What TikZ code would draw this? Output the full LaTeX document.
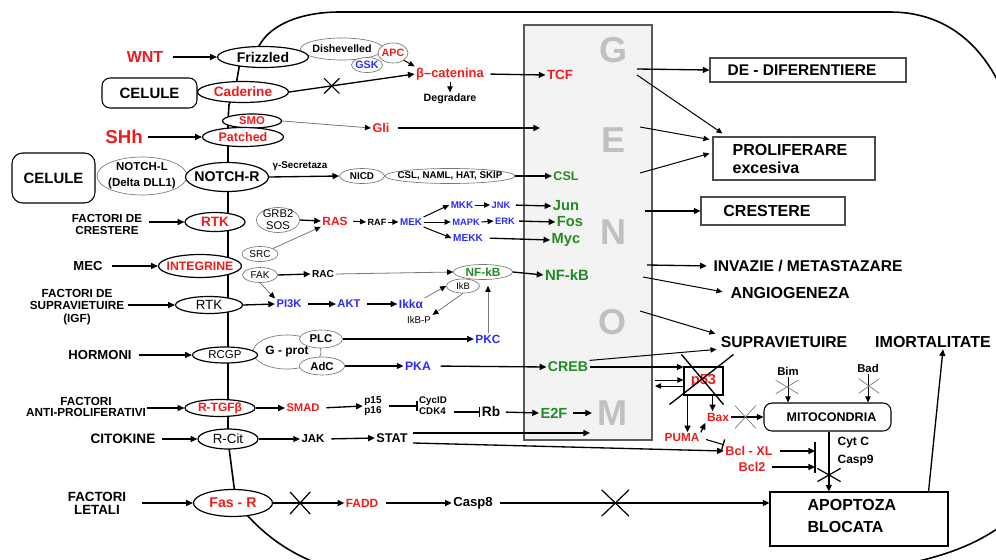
\documentclass[tikz,border=0pt]{standalone}
\usepackage{fontspec}
\setmainfont{Liberation Sans}
\usetikzlibrary{shapes.geometric,shapes.misc,arrows.meta,calc}
\definecolor{rd}{RGB}{240,28,28}
\definecolor{bl}{RGB}{45,45,250}
\definecolor{gn}{RGB}{34,139,34}
\definecolor{gy}{RGB}{120,120,120}
\definecolor{lt}{RGB}{192,192,192}
\definecolor{gbox}{RGB}{243,243,243}
\tikzset{
  sz/.style 2 args={minimum width=#1*0.75pt, minimum height=#2*0.75pt},
  ell/.style={ellipse, draw=black, fill=white, line width=0.9pt, inner sep=0pt},
  gell/.style={ellipse, draw=gy, fill=white, line width=0.5pt, inner sep=0pt},
  fs/.style 2 args={inner sep=1pt, font=\bfseries\fontsize{#1}{#2}\selectfont},
  fr/.style 2 args={inner sep=1pt, font=\mdseries\fontsize{#1}{#2}\selectfont},
  arr/.style={line width=1pt, -{Triangle[length=5pt,width=4.5pt]}},
  tarr/.style={line width=0.75pt, -{Triangle[length=4.5pt,width=4pt]}},
  garr/.style={draw=gy, line width=0.6pt, -{Triangle[length=4.5pt,width=4pt,color=black]}},
  inh/.style={line width=0.8pt, -{Bar[width=8pt,line width=1pt]}},
  xx/.style={cross out, draw, line width=0.9pt, inner sep=0pt},
  gxx/.style={cross out, draw=gy, line width=0.5pt, inner sep=0pt},
  box/.style={rectangle, draw, fill=white, line width=0.8pt, inner sep=0pt},
  mem/.style={line width=1.2pt},
  gl/.style={font=\bfseries\fontsize{27}{27}\selectfont, text=lt, inner sep=0pt},
}
\begin{document}
\begin{tikzpicture}[x=0.75pt,y=-0.75pt]
\path[use as bounding box] (0,0) rectangle (996,560);
\clip (0,0) rectangle (996,560);
\fill[white] (0,0) rectangle (996,560);
% cell membrane
\draw[mem] (259,46) .. controls (270,25) and (300,12) .. (340,12) -- (890,12)
  .. controls (950,12) and (990,50) .. (1010,110) -- (1040,480)
  .. controls (1020,520) and (980,550) .. (900,565) -- (900,600) -- (330,600) -- (330,568)
  .. controls (290,555) and (265,535) .. (246,514) -- (236,502) -- (228,440) -- (228,120)
  -- (229,105) -- (236,85) -- (240,62) -- cycle;
% genome
\node[rectangle, draw=black!65, fill=gbox, line width=1pt, sz={128}{415}, inner sep=0pt] (gen) at (588,232.5) {};
\node[gl] (lG) at (613,50) {G};
\node[gl] (lE) at (613,140) {E};
\node[gl] (lN) at (613,232) {N};
\node[gl] (lO) at (612,322) {O};
\node[gl] (lM) at (612,413) {M};

% ---- WNT / cadherin
\node[fs={12}{14}, text=rd] (wnt) at (145,57) {WNT};
\node[gell, sz={83}{22}, label={[fs={8}{9}]center:{Dishevelled}}] (dish) at (342,49) {};
\node[ell, sz={91}{21}, label={[fs={10.5}{12}]center:{Frizzled}}] (friz) at (263,57) {};
\node[gell, sz={31}{15}, label={[fs={8}{9},text=bl]center:{GSK}}] (gsk) at (367,65) {};
\node[gell, sz={30}{20}, label={[fs={8}{9},text=rd]center:{APC}}] (apc) at (393,53) {};
\node[fs={9.7}{11}, text=rd] (bcat) at (450,74) {β–catenina};
\node[fs={8}{9}] (degr) at (450,99) {Degradare};
\node[fs={10}{12}, text=rd] (tcf) at (560,75) {TCF};
\node[box, rounded corners=6pt, sz={95}{30}, label={[fs={11.2}{13}]center:{CELULE}}] (cel1) at (149.5,93) {};
\node[ell, sz={91}{21}, label={[fs={10.2}{12},text=rd]center:{Caderine}}] (cad) at (243,92) {};
% ---- SHh
\node[ell, sz={59}{14}, label={[fs={8.5}{9},text=rd]center:{SMO}}] (smo) at (252,121) {};
\node[ell, sz={81}{19}, label={[fs={9.4}{11},text=rd]center:{Patched}}] (patch) at (243,137) {};
\node[fs={14}{16}, text=rd] (shh) at (124,137) {SHh};
\node[fs={9.5}{11}, text=rd] (gli) at (381,128) {Gli};
% ---- NOTCH
\node[box, rounded corners=8pt, sz={83}{50}, label={[fs={11.2}{13}]center:{CELULE}}] (cel2) at (53.5,178) {};
\node[gell, sz={90}{38}, label={[fs={8.6}{12},align=center]center:{NOTCH-L\\(Delta DLL1)}}] (notchl) at (142,176) {};
\node[ell, sz={83}{29}, label={[fs={10.6}{12}]center:{NOTCH-R}}] (notchr) at (227,177) {};
\node[fs={7.4}{8}] (gsec) at (300,166) {γ-Secretaza};
\node[gell, sz={45}{15}, label={[fs={7.4}{8}]center:{NICD}}] (nicd) at (362,176) {};
\node[gell, sz={130}{15}, label={[fs={7.3}{8}]center:{CSL, NAML, HAT, SKIP}}] (cslx) at (450,176) {};
\node[fs={9.4}{11}, text=gn] (csl) at (566,176) {CSL};
% ---- growth factors
\node[fs={8.7}{9}, align=center] (fcr) at (107,225) {FACTORI DE\\CRESTERE};
\node[ell, sz={60}{19}, label={[fs={10.2}{12},text=rd]center:{RTK}}] (rtk1) at (215,222) {};
\node[gell, sz={43}{25}, label={[fr={8.4}{9.2},align=center]center:{GRB2\\SOS}}] (grb) at (278,220) {};
\node[fs={8.9}{10}, text=rd] (ras) at (335,221) {RAS};
\node[fs={6.8}{8}] (raf) at (377,222) {RAF};
\node[fs={7.4}{8}, text=bl] (mek) at (411,222) {MEK};
\node[fs={7.4}{8}, text=bl] (mkk) at (462,205) {MKK};
\node[fs={7}{8}, text=bl] (jnk) at (501,205) {JNK};
\node[fs={7}{8}, text=bl] (mapk) at (466,222) {MAPK};
\node[fs={7}{8}, text=bl] (erk) at (505,221) {ERK};
\node[fs={7.6}{8}, text=bl] (mekk) at (468,238) {MEKK};
\node[fs={11}{12}, text=gn] (jun) at (566,206) {Jun};
\node[fs={11}{12}, text=gn] (fos) at (570,222) {Fos};
\node[fs={11}{12}, text=gn] (myc) at (566,240) {Myc};
% ---- MEC
\node[fs={9.8}{11}] (mec) at (88,266) {MEC};
\node[ell, sz={83}{23}, label={[fs={9.2}{11},text=rd]center:{INTEGRINE}}] (integ) at (200,266) {};
\node[gell, sz={36}{15}, label={[fr={7.5}{8}]center:{SRC}}] (src) at (260,254) {};
\node[gell, sz={35}{15}, label={[fr={7.5}{8}]center:{FAK}}] (fak) at (260,275) {};
\node[fs={7.6}{8}] (rac) at (323,274) {RAC};
\node[gell, sz={59}{15}, label={[fs={8.9}{10},text=gn]center:{NF-kB}}] (nfkbs) at (483,272) {};
\node[gell, sz={33}{14}, label={[fr={7}{8}]center:{IkB}}] (ikb) at (463,286) {};
\node[fs={11.2}{12}, text=gn] (nfkb) at (567,275) {NF-kB};
% ---- survival
\node[fs={8.8}{9.4}, align=center] (fsv) at (77,307) {FACTORI DE\\SUPRAVIETUIRE\\(IGF)};
\node[ell, sz={67}{17}, label={[fr={10}{11}]center:{RTK}}] (rtk2) at (209,305) {};
\node[fs={8.4}{9}, text=bl] (pi3k) at (289,304) {PI3K};
\node[fs={8.4}{9}, text=bl] (akt) at (349,304) {AKT};
\node[fs={9}{10}, text=bl] (ikka) at (411,304) {Ikkα};
\node[fr={7.3}{8}] (ikbp) at (419,320) {IkB-P};
\node[fs={8.9}{10}, text=bl] (pkc) at (488,339) {PKC};
% ---- hormones
\node[fs={9.8}{11}] (horm) at (100,355) {HORMONI};
\node[gell, sz={68}{34}, label={[fs={9}{10}]center:{G - prot}}] (gprot) at (287,352) {};
\node[ell, sz={65}{16}, label={[fr={8.6}{9}]center:{RCGP}}] (rcgp) at (225,355) {};
\node[gell, sz={43}{18}, label={[fs={8.5}{9}]center:{PLC}}] (plc) at (321,339) {};
\node[gell, sz={45}{18}, label={[fs={8.5}{9}]center:{AdC}}] (adc) at (322,366) {};
\node[fs={9.2}{10}, text=bl] (pka) at (418,366) {PKA};
\node[fs={10.6}{12}, text=gn] (creb) at (568,367) {CREB};
% ---- anti-proliferative
\node[fs={8.8}{8.4}, align=center] (fap) at (86,407) {FACTORI\\ANTI-PROLIFERATIVI};
\node[ell, sz={70}{17}, label={[fs={9}{10},text=rd]center:{R-TGFβ}}] (rtgf) at (220,408) {};
\node[fs={8.4}{9}, text=rd] (smad) at (303,408) {SMAD};
\node[fs={7.5}{7.6}, align=center] (p1516) at (373,406) {p15\\p16};
\node[fs={7.3}{8.2}, align=left] (cyc) at (433,406) {CycID\\CDK4};
\node[fs={10.3}{11}] (rb) at (491,412) {Rb};
\node[fs={11}{12}, text=gn] (e2f) at (554,413) {E2F};
% ---- cytokines
\node[fs={10.2}{11}] (cit) at (123,439) {CITOKINE};
\node[ell, sz={60}{20}, label={[fr={10}{11}]center:{R-Cit}}] (rcit) at (228,439) {};
\node[fs={8.6}{9}] (jak) at (313,439) {JAK};
\node[fs={9.5}{10}] (stat) at (392,438) {STAT};
% ---- lethal
\node[fs={10}{9.8}, align=center] (flet) at (97,503) {FACTORI\\LETALI};
\node[ell, sz={79}{27}, label={[fs={10.6}{12},text=rd]center:{Fas - R}}] (fasr) at (233,503) {};
\node[fs={8.9}{10}, text=rd] (fadd) at (362,503) {FADD};
\node[fs={9.8}{11}] (casp8) at (473,503) {Casp8};
% ---- right side outcomes
\node[box, draw=black!70, sz={196}{24}, label={[fs={11.6}{13},xshift=-4.5pt]center:{DE - DIFERENTIERE}}] (dedif) at (808,70) {};
\node[box, draw=black!70, sz={162}{43}] (prolif) at (794,158.5) {};
\node[fs={12}{13.5}, align=left, anchor=west] (proliftx) at (731,159) {PROLIFERARE\\excesiva};
\node[box, draw=black!70, sz={144}{28}, label={[fs={12}{13},xshift=-4.5pt]center:{CRESTERE}}] (crest) at (773,211) {};
\node[fs={11.7}{13}, anchor=west] (invaz) at (712,266) {INVAZIE / METASTAZARE};
\node[fs={12}{13}, anchor=west] (angio) at (729,293) {ANGIOGENEZA};
\node[fs={11.8}{13}] (supr) at (784,342) {SUPRAVIETUIRE};
\node[fs={12}{13}] (imort) at (933,342) {IMORTALITATE};
\node[box, sz={39}{28}, label={[fs={11}{12},text=rd]center:{p53}}] (p53) at (703.5,381) {};
\node[fs={9}{10}, text=rd] (bax) at (718,417) {Bax};
\node[fs={8.8}{10}, text=rd] (puma) at (682,438) {PUMA};
\node[fs={9.5}{10}, text=rd] (bclxl) at (749,451) {Bcl - XL};
\node[fs={9.5}{10}, text=rd] (bcl2) at (752,467) {Bcl2};
\node[box, rounded corners=6pt, sz={127}{28}, label={[fs={9.4}{10},xshift=3pt]center:{MITOCONDRIA}}] (mito) at (827.5,417) {};
\node[fs={8.5}{9}] (bim) at (788,371) {Bim};
\node[fs={8.5}{9}] (bad) at (868,368) {Bad};
\node[fs={9}{10}, anchor=west] (cytc) at (836,443) {Cyt C};
\node[fs={9}{10}, anchor=west] (casp9) at (836,461) {Casp9};
\node[box, sz={178}{54}] (apop) at (859,519) {};
\node[fs={12}{16.5}, align=left, anchor=west] (apoptx) at (806,516) {APOPTOZA\\BLOCATA};

% ---- input arrows
\draw[arr, shorten <=6pt] (wnt.east) -- (friz.west);
\draw[arr, shorten <=3pt] (shh.east) -- (patch.west);
\draw[arr, shorten <=4pt] (fcr.east |- rtk1.west) -- (rtk1.west);
\draw[arr, shorten <=6pt] (mec.east) -- (integ.west);
\draw[arr, shorten <=2pt] (fsv.east |- rtk2.west) -- (rtk2.west);
\draw[arr, shorten <=4pt] (horm.east) -- (rcgp.west);
\draw[arr] (fap.east |- rtgf.west) -- (rtgf.west);
\draw[arr, shorten <=4pt] (cit.east) -- (rcit.west);
\draw[arr, shorten <=11pt] (flet.east |- fasr.west) -- (fasr.west);

% ---- WNT pathway
\draw[tarr] (apc.south east) -- (bcat.north west);
\draw[arr] (cad.east) -- (bcat.west);
\node[xx, sz={14}{14}] (x1) at ($(cad.east)!0.34!(bcat.west)$) {};
\draw[tarr] (bcat.south -| degr.north) -- (degr.north);
\draw[arr, shorten <=4pt] (bcat.east) -- (tcf.west);
% SHh
\draw[garr] (smo.east) -- (gli.west);
\coordinate (gGli) at (540,128);
\draw[arr, shorten <=5pt] (gli.east) -- (gGli);
% NOTCH
\draw[arr] (notchr.east) -- (nicd.west);
\draw[arr] (cslx.east) -- (csl.west);
% growth
\draw[arr] (grb.east) -- (ras.west);
\draw[garr] (src.north east) -- (ras.south west);
\draw[tarr, shorten <=3pt] (ras.east) -- (raf.west);
\draw[tarr] (raf.east) -- (mek.west);
\draw[tarr] (mek.north east) -- (mkk.west);
\draw[tarr] (mkk.east) -- (jnk.west);
\draw[arr, shorten <=3pt] (jnk.east) -- (jun.west);
\draw[tarr] (mek.east) -- (mapk.west);
\draw[tarr] (mapk.east) -- (erk.west);
\draw[arr, shorten <=2pt] (erk.east) -- (fos.west);
\draw[tarr] (mek.south east) -- (mekk.west);
\draw[arr, shorten <=4pt] (mekk.east) -- (myc.west);
% integrins / survival
\draw[arr] (fak.east) -- (rac.west);
\draw[garr] (fak.south) -- (pi3k.north west);
\draw[garr] (rac.east) -- (nfkbs.west);
\draw[arr] (nfkbs.east) -- (nfkb.west);
\draw[arr] (rtk2.east) -- (pi3k.west);
\draw[arr, shorten <=4pt] (pi3k.east) -- (akt.west);
\draw[arr, shorten <=4pt] (akt.east) -- (ikka.west);
\draw[garr] (ikka.north east) -- (ikb.west);
\draw[garr] (ikb.south) -- (ikbp.north east);
\draw[garr, shorten >=4.5pt] (pkc.north) -- (nfkbs.south -| pkc.north);
% hormones
\draw[arr] (plc.east) -- (pkc.west);
\draw[arr] (adc.east) -- (pka.west);
\draw[arr, shorten <=6pt] (pka.east) -- (creb.west);
% anti-proliferative
\draw[arr] (rtgf.east) -- (smad.west);
\draw[arr, shorten <=4pt] (smad.east) -- (p1516.west);
\draw[inh, shorten <=4pt] (p1516.east) -- (cyc.west);
\draw[inh, shorten <=4pt] (cyc.east |- rb.west) -- (rb.west);
\draw[arr, shorten <=3pt] (rb.east) -- (e2f.west);
\coordinate (gM) at (592,413);
\draw[arr, shorten <=3pt] (e2f.east) -- (gM);
% cytokines
\draw[arr] (rcit.east) -- (jak.west);
\draw[arr, shorten <=4pt] (jak.east) -- (stat.west);
\coordinate (gS) at (590,433);
\draw[arr] ([shift={(3pt,3.75pt)}]stat.east) -- (gS);
\draw[arr] ([shift={(3pt,-3.75pt)}]stat.east) -- (bclxl.west);
% lethal
\draw[arr] (fasr.east) -- (fadd.west);
\node[xx, sz={19}{21}] (x2) at ($(fasr.east)!0.38!(fadd.west)$) {};
\draw[arr, shorten <=5pt] (fadd.east) -- (casp8.west);
\draw[arr, shorten <=4pt] (casp8.east) -- (casp8.east -| apop.west);
\node[xx, sz={26}{25}] (x3) at ($(casp8.east)!0.44!(casp8.east -| apop.west)$) {};

% ---- genome outputs
\coordinate (gG1) at (637,69);
\draw[arr] (gG1) -- (dedif.west);
\coordinate (gG2) at (637,75);
\draw[tarr] (gG2) -- ($(prolif.north west)+(10,-3)$);
\coordinate (gE1) at (640,127);
\draw[tarr] (gE1) -- ($(prolif.north west)+(-3,3)$);
\coordinate (gE2) at (640,173);
\draw[tarr] (gE2) -- ($(prolif.north west)+(-3,17)$);
\coordinate (gN) at (645,211);
\draw[arr] (gN) -- (crest.west);
\coordinate (gI) at (647,265);
\draw[arr, shorten >=4pt] (gI) -- (invaz.west);
\coordinate (gA) at (643,277);
\draw[tarr, shorten >=5pt] (gA) -- (angio.west);
\coordinate (gO) at (640,311);
\draw[tarr, shorten >=3pt] (gO) -- (supr.north west);
\draw[tarr, shorten >=2pt] (creb.north east) -- (supr.south west);

% ---- p53 / apoptosis
\draw[arr] (creb.east) -- (creb.east -| p53.west);
\coordinate (g53a) at (655,380);
\coordinate (g53b) at (655,386);
\draw[tarr] (g53a) -- (g53a -| p53.west);
\draw[tarr] (g53b -| p53.west) -- (g53b);
\draw[line width=1pt] ($(p53.north west)+(-2,-12)$) -- ($(p53.south east)+(0,9)$);
\draw[line width=1pt] ($(p53.north east)+(10,-12)$) -- ($(p53.south west)+(-14,9)$);
\coordinate (pp) at ($(p53.south west)+(4,0)$);
\draw[arr] (pp) -- (pp |- puma.north);
\coordinate (pb) at ($(p53.south east)+(-11,0)$);
\draw[arr] (pb) -- (pb |- bax.north);
\draw[arr] (puma.north east) -- (bax.south west);
\draw[inh, shorten <=4pt] (puma.east) -- (bclxl.north west);
\draw[arr] (bax.east) -- (mito.west);
\node[gxx, sz={20}{22}] (x4) at ($(bax.east)!0.45!(mito.west)$) {};
\draw[tarr] (bim.south) -- (bim.south |- mito.north);
\node[gxx, sz={22}{13}] (x5) at (787,387) {};
\draw[tarr] (bad.south) -- (bad.south |- mito.north);
\node[gxx, sz={20}{14}] (x6) at (869,386) {};
\draw[arr] ([xshift=1pt]mito.south) -- ([xshift=1pt]mito.south |- apop.north);
\node[xx, sz={22}{12}] (x7) at (829,475) {};
\coordinate (bart) at (815,442);
\coordinate (barb) at (815,473);
\draw[line width=1.2pt] (bart) -- (barb);
\draw[arr, shorten <=4pt] (bclxl.east) -- (bclxl.east -| bart);
\draw[arr, shorten <=4pt] (bcl2.east) -- (bcl2.east -| bart);
\draw[arr] ($(apop.north east)+(-20,0)$) -- ($(imort.south)+(10,0)$);
\end{tikzpicture}
\end{document}
